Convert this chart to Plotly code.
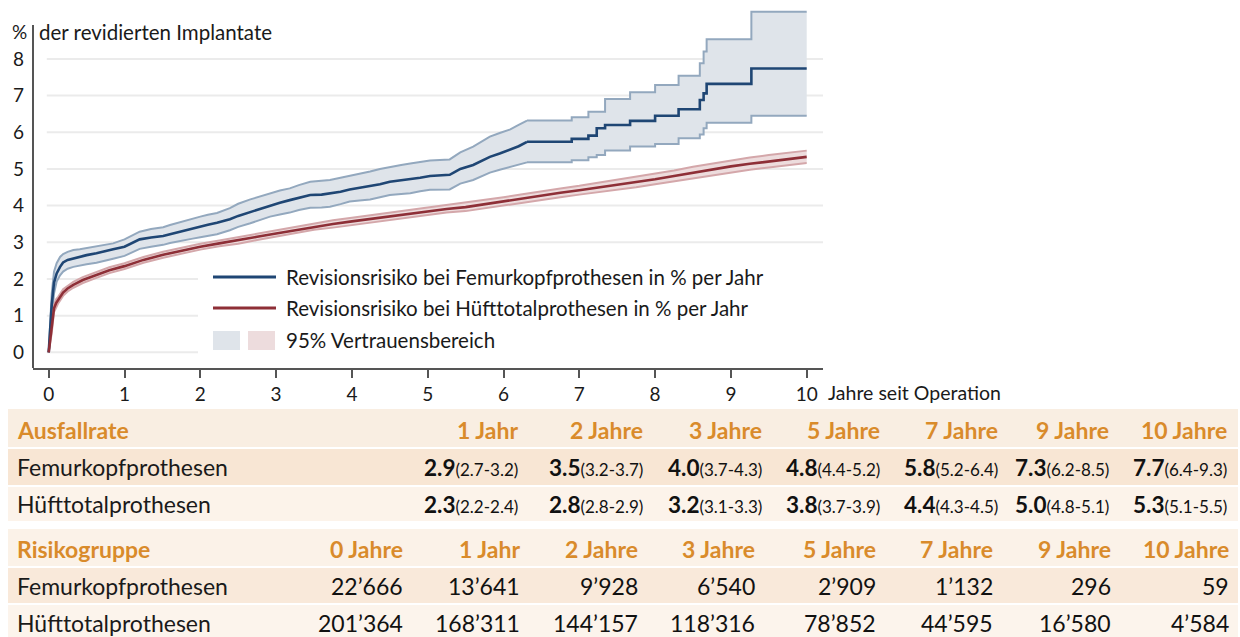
import plotly.graph_objects as go

# ---------------- data ----------------
# Femurkopfprothesen (step curve)
fem_t = [0, 0.02, 0.04, 0.07, 0.105, 0.15, 0.19, 0.25, 0.325, 0.41, 0.5, 0.63, 0.75, 0.85, 1.0, 1.1, 1.2, 1.35,
         1.51, 1.6, 1.73, 1.9, 2.0, 2.1, 2.22, 2.39, 2.5, 2.66, 2.8, 2.92, 3.05, 3.18, 3.3, 3.45, 3.6, 3.71, 3.85,
         3.97, 4.1, 4.24, 4.37, 4.5, 4.65, 4.77, 4.9, 5.03, 5.29, 5.36, 5.43, 5.6, 5.72, 5.82, 5.95, 6.09, 6.2,
         6.31, 6.9, 7.12, 7.23, 7.34, 7.67, 8.0, 8.31, 8.59, 8.64, 8.68, 9.27, 10.0]
fem_med = [0, 0.7, 1.3, 1.9, 2.15, 2.33, 2.45, 2.52, 2.56, 2.61, 2.65, 2.70, 2.75, 2.81, 2.88, 2.98, 3.08, 3.13,
           3.17, 3.22, 3.29, 3.38, 3.44, 3.48, 3.53, 3.63, 3.72, 3.83, 3.92, 4.0, 4.08, 4.15, 4.22, 4.29, 4.30, 4.33,
           4.38, 4.44, 4.48, 4.52, 4.58, 4.65, 4.69, 4.72, 4.76, 4.81, 4.84, 4.92, 5.0, 5.11, 5.22, 5.33, 5.42,
           5.52, 5.62, 5.74, 5.82, 5.91, 6.11, 6.20, 6.31, 6.45, 6.63, 6.88, 7.06, 7.32, 7.74, 7.74]
fem_hi = [0, 0.9, 1.6, 2.2, 2.43, 2.6, 2.68, 2.74, 2.79, 2.81, 2.84, 2.88, 2.93, 2.97, 3.08, 3.18, 3.29, 3.36,
          3.41, 3.47, 3.55, 3.65, 3.70, 3.75, 3.80, 3.93, 4.05, 4.17, 4.26, 4.34, 4.41, 4.47, 4.56, 4.65, 4.67,
          4.70, 4.76, 4.81, 4.87, 4.93, 5.0, 5.06, 5.11, 5.15, 5.19, 5.23, 5.26, 5.36, 5.45, 5.61, 5.75, 5.88,
          5.98, 6.08, 6.20, 6.32, 6.41, 6.56, 6.56, 6.91, 7.09, 7.29, 7.54, 7.88, 8.20, 8.54, 9.29, 9.29]
fem_lo = [0, 0.5, 1.0, 1.6, 1.93, 2.1, 2.2, 2.28, 2.33, 2.37, 2.40, 2.44, 2.49, 2.55, 2.63, 2.72, 2.82, 2.88,
          2.93, 2.98, 3.04, 3.10, 3.14, 3.18, 3.22, 3.33, 3.42, 3.52, 3.61, 3.70, 3.76, 3.81, 3.88, 3.94, 3.95,
          3.97, 4.04, 4.11, 4.14, 4.17, 4.23, 4.29, 4.32, 4.34, 4.39, 4.43, 4.44, 4.52, 4.60, 4.70, 4.80, 4.90,
          4.98, 5.06, 5.12, 5.18, 5.24, 5.32, 5.38, 5.50, 5.61, 5.68, 5.84, 5.94, 6.11, 6.26, 6.45, 6.45]
# from this year on the Kaplan-Meier steps are clearly visible
step_from = 6.31

# Hüfttotalprothesen
hip_t = [0, 0.02, 0.04, 0.07, 0.1, 0.127, 0.19, 0.25, 0.325, 0.45, 0.63, 0.8, 1.0, 1.25, 1.51, 1.75, 2.0, 2.25,
         2.5, 2.75, 3.0, 3.25, 3.5, 3.75, 4.0, 4.25, 4.5, 4.75, 5.0, 5.25, 5.5, 5.75, 6.0, 6.25, 6.5, 6.75, 7.0,
         7.25, 7.5, 7.75, 8.0, 8.25, 8.5, 8.75, 9.0, 9.25, 9.5, 9.75, 10.0]
hip_med = [0, 0.35, 0.61, 1.2, 1.35, 1.43, 1.63, 1.74, 1.84, 1.97, 2.11, 2.24, 2.35, 2.52, 2.66, 2.77, 2.88,
           2.97, 3.05, 3.15, 3.24, 3.33, 3.43, 3.50, 3.57, 3.64, 3.70, 3.78, 3.84, 3.91, 3.96, 4.04, 4.12, 4.20,
           4.28, 4.35, 4.42, 4.49, 4.57, 4.64, 4.72, 4.81, 4.90, 4.99, 5.07, 5.14, 5.21, 5.27, 5.33]
hip_hi = [0, 0.42, 0.70, 1.30, 1.45, 1.52, 1.72, 1.82, 1.92, 2.05, 2.19, 2.32, 2.43, 2.60, 2.74, 2.85, 2.96,
          3.05, 3.14, 3.24, 3.33, 3.42, 3.52, 3.60, 3.67, 3.74, 3.80, 3.88, 3.94, 4.01, 4.07, 4.15, 4.23, 4.31,
          4.40, 4.47, 4.54, 4.62, 4.70, 4.78, 4.86, 4.96, 5.06, 5.15, 5.24, 5.31, 5.38, 5.44, 5.50]
hip_lo = [0, 0.28, 0.52, 1.10, 1.25, 1.34, 1.54, 1.66, 1.76, 1.89, 2.03, 2.16, 2.27, 2.44, 2.58, 2.69, 2.80,
          2.89, 2.96, 3.06, 3.15, 3.24, 3.34, 3.40, 3.47, 3.54, 3.60, 3.68, 3.74, 3.81, 3.85, 3.93, 4.01, 4.09,
          4.16, 4.23, 4.30, 4.36, 4.44, 4.50, 4.58, 4.66, 4.74, 4.83, 4.90, 4.98, 5.04, 5.10, 5.16]

x_ticks = [0, 1, 2, 3, 4, 5, 6, 7, 8, 9, 10]
y_ticks = [0, 1, 2, 3, 4, 5, 6, 7, 8]

legend_labels = ["Revisionsrisiko bei Femurkopfprothesen in % per Jahr",
                 "Revisionsrisiko bei Hüfttotalprothesen in % per Jahr",
                 "95% Vertrauensbereich"]

# Ausfallrate table
rate_cols = ["1 Jahr", "2 Jahre", "3 Jahre", "5 Jahre", "7 Jahre", "9 Jahre", "10 Jahre"]
fem_rate = [2.9, 3.5, 4.0, 4.8, 5.8, 7.3, 7.7]
fem_rate_lo = [2.7, 3.2, 3.7, 4.4, 5.2, 6.2, 6.4]
fem_rate_hi = [3.2, 3.7, 4.3, 5.2, 6.4, 8.5, 9.3]
hip_rate = [2.3, 2.8, 3.2, 3.8, 4.4, 5.0, 5.3]
hip_rate_lo = [2.2, 2.8, 3.1, 3.7, 4.3, 4.8, 5.1]
hip_rate_hi = [2.4, 2.9, 3.3, 3.9, 4.5, 5.1, 5.5]

# Risikogruppe table
risk_cols = ["0 Jahre", "1 Jahr", "2 Jahre", "3 Jahre", "5 Jahre", "7 Jahre", "9 Jahre", "10 Jahre"]
fem_n = [22666, 13641, 9928, 6540, 2909, 1132, 296, 59]
hip_n = [201364, 168311, 144157, 118316, 78852, 44595, 16580, 4584]

row_names = ["Femurkopfprothesen", "Hüfttotalprothesen"]

# ---------------- styling ----------------
FONT = "Lato"
W, H = 1240, 637
ML, MR, MT, MB = 33, 417, 5, 269
PW = W - ML - MR
PH = H - MT - MB
Y0PX, YUNIT = 352.3, 36.67      # pixel of y=0 and pixels per %
X0PX, XUNIT = 48.7, 75.8        # pixel of x=0 and pixels per year

BLUE = "#1f4674"
BLUE_CI = "#93a8be"
BLUE_FILL = "#dfe4ea"
RED = "#8e2f37"
RED_CI = "#d4a7aa"
RED_FILL = "#eddcdd"
ORANGE = "#d98b2b"
GRID = "#ebebeb"
AXIS = "#555555"


def px(x):
    return (x - ML) / PW


def py(y):
    return (H - MB - y) / PH


fig = go.Figure()

k = fem_t.index(step_from)
early = slice(0, k + 1)
late = slice(k, None)


def band(t, lo, hi, shape):
    fig.add_trace(go.Scatter(x=t, y=lo, mode="lines", line=dict(color=BLUE_CI, width=2, shape=shape),
                             showlegend=False, hoverinfo="skip"))
    fig.add_trace(go.Scatter(x=t, y=hi, mode="lines", line=dict(color=BLUE_CI, width=2, shape=shape),
                             fill="tonexty", fillcolor=BLUE_FILL, showlegend=False, hoverinfo="skip"))


band(fem_t[early], fem_lo[early], fem_hi[early], "linear")
band(fem_t[late], fem_lo[late], fem_hi[late], "hv")

fig.add_trace(go.Scatter(x=hip_t, y=hip_lo, mode="lines", line=dict(color=RED_CI, width=2),
                         showlegend=False, hoverinfo="skip"))
fig.add_trace(go.Scatter(x=hip_t, y=hip_hi, mode="lines", line=dict(color=RED_CI, width=2),
                         fill="tonexty", fillcolor=RED_FILL, showlegend=False, hoverinfo="skip"))
# medians
fig.add_trace(go.Scatter(x=fem_t[early], y=fem_med[early], mode="lines", line=dict(color=BLUE, width=2.6),
                         name=legend_labels[0], showlegend=False))
fig.add_trace(go.Scatter(x=fem_t[late], y=fem_med[late], mode="lines",
                         line=dict(color=BLUE, width=2.6, shape="hv"),
                         name=legend_labels[0], showlegend=False))
fig.add_trace(go.Scatter(x=hip_t, y=hip_med, mode="lines", line=dict(color=RED, width=2.6),
                         name=legend_labels[1], showlegend=False))

shapes = []
# gridlines (lower ones hidden behind legend area)
for v in y_ticks:
    x1 = 10.215 if v >= 3 else 1.97
    shapes.append(dict(type="line", xref="x", yref="y", x0=-0.025, x1=x1, y0=v, y1=v,
                       line=dict(color=GRID, width=2), layer="below"))

# left axis line (starts below the top of the plot area)
shapes.append(dict(type="line", xref="paper", yref="paper", x0=0, x1=0, y0=0, y1=py(25),
                   line=dict(color=AXIS, width=2)))

# legend swatches
shapes.append(dict(type="line", xref="paper", yref="paper", x0=px(213), x1=px(276), y0=py(277), y1=py(277),
                   line=dict(color=BLUE, width=3)))
shapes.append(dict(type="line", xref="paper", yref="paper", x0=px(213), x1=px(276), y0=py(308), y1=py(308),
                   line=dict(color=RED, width=3)))
shapes.append(dict(type="rect", xref="paper", yref="paper", x0=px(213), x1=px(240), y0=py(350), y1=py(331),
                   fillcolor=BLUE_FILL, line=dict(width=0)))
shapes.append(dict(type="rect", xref="paper", yref="paper", x0=px(248), x1=px(275), y0=py(350), y1=py(331),
                   fillcolor=RED_FILL, line=dict(width=0)))

# table backgrounds
bands = [(409, 447, "#f9eee2"), (449, 485, "#f8e6d4"), (487, 521, "#fcf3ea"),
         (529, 566, "#fbf2e8"), (568, 603, "#f9e9da"), (605, 637, "#fcf4ec")]
for y0, y1, c in bands:
    shapes.append(dict(type="rect", xref="paper", yref="paper", x0=px(8), x1=px(1238), y0=py(y1), y1=py(y0),
                       fillcolor=c, line=dict(width=0), layer="below"))

annotations = []


def txt(x, y, s, size=17, color="#1a1a1a", anchor="left"):
    annotations.append(dict(x=px(x), y=py(y), xref="paper", yref="paper", text=s, showarrow=False,
                            xanchor=anchor, yanchor="middle", font=dict(family=FONT, size=size, color=color)))


# axis titles
txt(10, 32, "%", 19)
txt(37, 32, "der revidierten Implantate", 20.5)
txt(826, 392, "Jahre seit Operation", 19.5)

# legend texts
for lbl, yc in zip(legend_labels, [277, 308, 340]):
    txt(284, yc, lbl, 20.5)

# Ausfallrate table
TS = 23
rate_right = [520, 645, 764, 882, 1000, 1111, 1229]
txt(15, 430, "<b>Ausfallrate</b>", TS, ORANGE)
for i, c in enumerate(rate_cols):
    txt(rate_right[i], 430, "<b>" + c + "</b>", TS, ORANGE, "right")
for r, (vals, los, his, yc) in enumerate([(fem_rate, fem_rate_lo, fem_rate_hi, 467),
                                           (hip_rate, hip_rate_lo, hip_rate_hi, 504)]):
    txt(15, yc, row_names[r], TS)
    for i in range(len(vals)):
        s = "<b>%.1f</b><span style='font-size:17px'>(%.1f-%.1f)</span>" % (vals[i], los[i], his[i])
        txt(rate_right[i], yc, s, TS - 0.5, "#111111", "right")

# Risikogruppe table
risk_right = [405, 522, 640, 757, 878, 995, 1113, 1231]
txt(15, 549, "<b>Risikogruppe</b>", TS, ORANGE)
for i, c in enumerate(risk_cols):
    txt(risk_right[i], 549, "<b>" + c + "</b>", TS, ORANGE, "right")


def fmt(n):
    return "{:,}".format(n).replace(",", "\u2019")


for r, (vals, yc) in enumerate([(fem_n, 586), (hip_n, 623)]):
    txt(15, yc, row_names[r], TS)
    for i in range(len(vals)):
        txt(risk_right[i], yc, fmt(vals[i]), TS, "#111111", "right")

fig.update_layout(
    width=W, height=H,
    margin=dict(l=ML, r=MR, t=MT, b=MB, pad=0),
    paper_bgcolor="white", plot_bgcolor="white",
    shapes=shapes, annotations=annotations,
    showlegend=False,
    hovermode=False,
    font=dict(family=FONT, size=19, color="#1a1a1a"),
    xaxis=dict(range=[(ML - X0PX) / XUNIT, (W - MR - X0PX) / XUNIT], tickvals=x_ticks, showgrid=False,
               zeroline=False, showline=True, linecolor=AXIS, linewidth=2, ticks="outside", ticklen=8,
               tickwidth=1.5, tickcolor=AXIS, tickfont=dict(family=FONT, size=19, color="#1a1a1a")),
    yaxis=dict(range=[(Y0PX - (H - MB)) / YUNIT, (Y0PX - MT) / YUNIT], tickvals=y_ticks, showgrid=False,
               zeroline=False, showline=False, ticks="", ticklabelstandoff=8,
               tickfont=dict(family=FONT, size=19, color="#1a1a1a")),
)

fig.write_html("out.html", config={"displayModeBar": False},
               post_script="document.body.style.margin='0';")
